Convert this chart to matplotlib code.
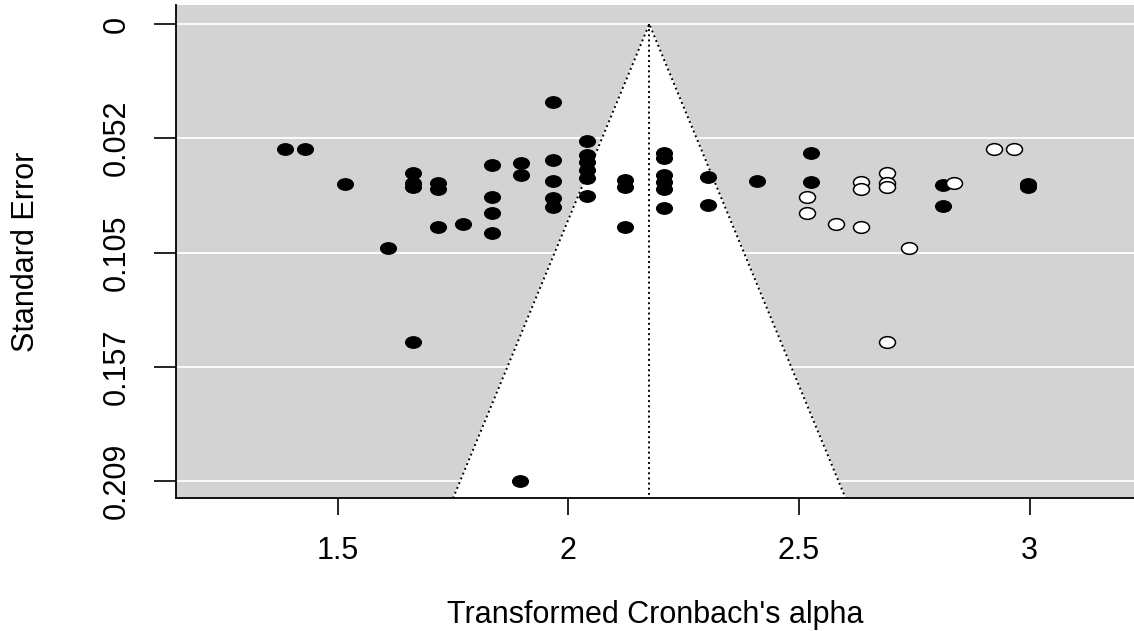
import matplotlib
matplotlib.use("Agg")
import matplotlib.pyplot as plt
from matplotlib.path import Path
from matplotlib.transforms import Affine2D

# observed studies (filled dots): transformed alpha and standard error
obs_alpha = [1.386, 1.430, 1.516, 1.608, 1.663, 1.663, 1.663, 1.663,
             1.718, 1.718, 1.718, 1.772, 1.834, 1.834, 1.834, 1.834,
             1.897, 1.897, 1.895, 1.966, 1.966, 1.966, 1.966, 1.966,
             2.040, 2.040, 2.040, 2.040, 2.040, 2.040, 2.123, 2.123, 2.123,
             2.207, 2.207, 2.207, 2.207, 2.207, 2.207, 2.303, 2.303, 2.410,
             2.525, 2.525, 2.813, 2.813, 2.997, 2.997]
obs_se = [0.0572, 0.0572, 0.0732, 0.1027, 0.0683, 0.0730, 0.0745, 0.1457,
          0.0726, 0.0757, 0.0928, 0.0916, 0.0647, 0.0793, 0.0864, 0.0958,
          0.0638, 0.0691, 0.2091, 0.0357, 0.0623, 0.0719, 0.0798, 0.0836,
          0.0536, 0.0600, 0.0632, 0.0668, 0.0705, 0.0787, 0.0714, 0.0746, 0.0928,
          0.0591, 0.0613, 0.0691, 0.0723, 0.0755, 0.0844, 0.0702, 0.0829, 0.0719,
          0.0589, 0.0725, 0.0737, 0.0832, 0.0732, 0.0744]

# studies filled in by trim and fill (open dots)
fill_alpha = [2.518, 2.518, 2.580, 2.634, 2.634, 2.634, 2.690, 2.690,
              2.690, 2.690, 2.739, 2.837, 2.923, 2.966]
fill_se = [0.0793, 0.0867, 0.0916, 0.0722, 0.0755, 0.0928, 0.0681, 0.0730,
           0.0746, 0.1457, 0.1027, 0.0729, 0.0572, 0.0572]

estimate = 2.1755
se_ticks = [0, 0.0523, 0.1046, 0.1569, 0.2092]
se_labels = ["0", "0.052", "0.105", "0.157", "0.209"]
x_ticks = [1.5, 2, 2.5, 3]
x_labels = ["1.5", "2", "2.5", "3"]

plt.rcParams['font.family'] = ['Liberation Sans', 'DejaVu Sans']
plt.rcParams['font.size'] = 22

W, H = 1134, 631
fig = plt.figure(figsize=(W / 100, H / 100), dpi=100)
ax = fig.add_axes([176 / W, (H - 498.3) / H, (W - 176) / W, (498.3 - 4.7) / H])
ax.set_facecolor('#d3d3d3')
ax.set_xlim(1.1495, 3.2262)
ax.set_ylim(0.2171, -0.00884)

for t in se_ticks:
    ax.axhline(t, color='white', lw=1.3, zorder=1)

# funnel (pseudo 95% region) drawn down to the bottom of the plot
ylow = ax.get_ylim()[0]
fx = [estimate - 1.96 * ylow, estimate, estimate + 1.96 * ylow]
fy = [ylow, 0, ylow]
ax.fill(fx, fy, color='white', zorder=2)
ax.plot(fx, fy, ':', color='black', lw=1.4, zorder=3)
ax.plot([estimate, estimate], [0, ylow], ':', color='black', lw=1.4, zorder=3)

# slightly wide dots, as in the source image
dot = Path.unit_circle().transformed(Affine2D().scale(1.0, 0.73))
ax.plot(obs_alpha, obs_se, linestyle='none', marker=dot, ms=11.5,
        mfc='black', mec='black', mew=0.8, zorder=4)
ax.plot(fill_alpha, fill_se, linestyle='none', marker=dot, ms=11.5,
        mfc='white', mec='black', mew=1.1, zorder=4)

for s in ['top', 'right']:
    ax.spines[s].set_visible(False)
for s in ['left', 'bottom']:
    ax.spines[s].set_linewidth(1.3)
    ax.spines[s].set_color('black')

ax.set_xticks(x_ticks, x_labels)
ax.set_yticks(se_ticks, se_labels)
ax.tick_params(axis='x', direction='out', length=12, width=1.2, pad=15.0)
ax.tick_params(axis='y', direction='out', length=15.6, width=1.2, pad=16.0,
               labelrotation=90)
plt.setp(ax.get_yticklabels(), va='center')

ax.set_xlabel("Transformed Cronbach's alpha", va='center')
ax.xaxis.set_label_coords(0.5, -0.2356)
ax.set_ylabel("Standard Error", va='center', ha='center', rotation_mode='default')
ax.yaxis.set_label_coords(-0.1566, 0.5)

fig.savefig("out.png", dpi=100)
